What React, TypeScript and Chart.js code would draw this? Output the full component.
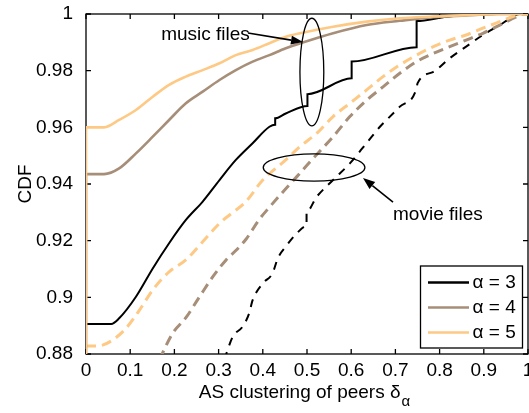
import React, { useEffect, useRef } from "react";
import { Chart, registerables } from "chart.js";

Chart.register(...registerables);

// ---------- data ----------
const xTicks = [0, 0.1, 0.2, 0.3, 0.4, 0.5, 0.6, 0.7, 0.8, 0.9, 1];
const xTickLabels = ["0", "0.1", "0.2", "0.3", "0.4", "0.5", "0.6", "0.7", "0.8", "0.9", "1"];
const yTicks = [0.88, 0.9, 0.92, 0.94, 0.96, 0.98, 1];
const yTickLabels = ["0.88", "0.9", "0.92", "0.94", "0.96", "0.98", "1"];

const legendLabels = ["α = 3", "α = 4", "α = 5"];

// music files (solid)
const musicAlpha3: [number, number][] = [
  [0, 0], [0, 0.8906], [0.057, 0.8906], [0.075, 0.8926], [0.113, 0.9002], [0.151, 0.9102],
  [0.188, 0.9191], [0.226, 0.9273], [0.264, 0.9338], [0.302, 0.9414], [0.339, 0.9485],
  [0.377, 0.9544], [0.415, 0.9602], [0.428, 0.9609], [0.428, 0.9632], [0.452, 0.9649],
  [0.501, 0.9675], [0.501, 0.9717], [0.601, 0.9773], [0.601, 0.9832], [0.748, 0.9883],
  [0.748, 0.9975], [0.816, 0.999], [0.885, 0.9998], [0.93, 1], [1, 1],
];
const musicAlpha4: [number, number][] = [
  [0, 0], [0, 0.9435], [0.041, 0.9435], [0.075, 0.9455], [0.113, 0.9508], [0.151, 0.9567],
  [0.188, 0.9626], [0.226, 0.9685], [0.264, 0.9726], [0.302, 0.9767], [0.339, 0.9802],
  [0.377, 0.9832], [0.415, 0.9855], [0.452, 0.9879], [0.49, 0.9899], [0.559, 0.9932],
  [0.635, 0.9961], [0.71, 0.9976], [0.786, 0.9989], [0.86, 0.9995], [0.93, 1], [1, 1],
];
const musicAlpha5: [number, number][] = [
  [0, 0], [0, 0.96], [0.041, 0.96], [0.075, 0.9626], [0.113, 0.9661], [0.151, 0.9708],
  [0.188, 0.975], [0.226, 0.9779], [0.264, 0.9802], [0.302, 0.9826], [0.339, 0.9855],
  [0.377, 0.9873], [0.415, 0.9897], [0.452, 0.992], [0.49, 0.9934], [0.559, 0.9955],
  [0.635, 0.9973], [0.71, 0.9985], [0.786, 0.9991], [0.86, 0.9996], [0.95, 1], [1, 1],
];

// movie files (dashed)
const movieAlpha3: [number, number][] = [
  [0.313, 0.878], [0.332, 0.8861], [0.354, 0.8896], [0.369, 0.8943], [0.377, 0.899],
  [0.4, 0.9049], [0.422, 0.9085], [0.434, 0.9138], [0.452, 0.9179], [0.477, 0.9226],
  [0.499, 0.9252], [0.499, 0.9302], [0.522, 0.9355], [0.559, 0.9414], [0.597, 0.9473],
  [0.635, 0.9545], [0.665, 0.9602], [0.68, 0.9626], [0.71, 0.9673], [0.748, 0.9738],
  [0.75, 0.9755], [0.786, 0.9796], [0.823, 0.9844], [0.86, 0.9885], [0.898, 0.9926],
  [0.936, 0.9961], [0.965, 0.999], [0.98, 1], [1, 1],
];
const movieAlpha4: [number, number][] = [
  [0.166, 0.878], [0.196, 0.8873], [0.226, 0.8928], [0.256, 0.9], [0.287, 0.9073],
  [0.317, 0.9132], [0.339, 0.9165], [0.362, 0.9205], [0.392, 0.9275], [0.415, 0.9318],
  [0.446, 0.9373], [0.477, 0.9426], [0.507, 0.9479], [0.559, 0.9567], [0.597, 0.9638],
  [0.635, 0.9696], [0.672, 0.9743], [0.71, 0.9791], [0.748, 0.9832], [0.786, 0.9861],
  [0.823, 0.9885], [0.86, 0.9908], [0.898, 0.9932], [0.936, 0.9961], [0.974, 0.999],
  [0.99, 1], [1, 1],
];
const movieAlpha5: [number, number][] = [
  [0, 0.8828], [0.03, 0.8829], [0.06, 0.8849], [0.09, 0.889], [0.121, 0.8955],
  [0.151, 0.9026], [0.188, 0.909], [0.226, 0.9132], [0.264, 0.9196], [0.302, 0.9261],
  [0.33, 0.9297], [0.36, 0.9335], [0.4, 0.9414], [0.452, 0.9485], [0.484, 0.9532],
  [0.522, 0.9579], [0.559, 0.9638], [0.597, 0.9685], [0.635, 0.9732], [0.672, 0.9779],
  [0.71, 0.982], [0.748, 0.9855], [0.786, 0.9885], [0.823, 0.9908], [0.86, 0.9926],
  [0.898, 0.995], [0.936, 0.9973], [0.974, 0.9996], [0.985, 1], [1, 1],
];

// annotations (data coordinates)
const musicLabel = { text: "music files", x: 0.17, y: 0.9926 };
const musicArrow = { from: [0.3665, 0.9933], to: [0.491, 0.9901] };
const musicEllipse = { cx: 0.511, cy: 0.9795, rx: 0.027, ry: 0.019 };
const movieLabel = { text: "movie files", x: 0.6946, y: 0.929 };
const movieArrow = { from: [0.6946, 0.9336], to: [0.6267, 0.9421] };
const movieEllipse = { cx: 0.516, cy: 0.9458, rx: 0.115, ry: 0.0048 };

// ---------- styles ----------
const FONT = '"Liberation Sans", Arial, Helvetica, sans-serif';
const BLACK = "#000000";
const BROWN = "#a68e78";
const ORANGE = "#fec984";
const colors = [BLACK, BROWN, ORANGE];

const toXY = (arr: [number, number][]) => arr.map(([x, y]) => ({ x, y }));

function drawArrow(ctx: CanvasRenderingContext2D, x1: number, y1: number, x2: number, y2: number) {
  const ang = Math.atan2(y2 - y1, x2 - x1);
  const len = 12;
  const hw = 4.5;
  const bx = x2 - len * Math.cos(ang);
  const by = y2 - len * Math.sin(ang);
  ctx.beginPath();
  ctx.moveTo(x1, y1);
  ctx.lineTo(bx, by);
  ctx.stroke();
  ctx.beginPath();
  ctx.moveTo(x2, y2);
  ctx.lineTo(bx + hw * Math.sin(ang), by - hw * Math.cos(ang));
  ctx.lineTo(bx - hw * Math.sin(ang), by + hw * Math.cos(ang));
  ctx.closePath();
  ctx.fill();
}

const decorPlugin = {
  id: "matlabDecor",
  beforeDatasetsDraw(chart: any) {
    const { ctx, chartArea: a, scales } = chart;
    const xs = scales.x;
    const ys = scales.y;
    ctx.save();
    ctx.strokeStyle = BLACK;
    ctx.lineWidth = 1.3;
    ctx.strokeRect(a.left, a.top, a.right - a.left, a.bottom - a.top);
    const tl = 5;
    ctx.beginPath();
    xTicks.forEach((v) => {
      const px = xs.getPixelForValue(v);
      ctx.moveTo(px, a.bottom);
      ctx.lineTo(px, a.bottom - tl);
      ctx.moveTo(px, a.top);
      ctx.lineTo(px, a.top + tl);
    });
    yTicks.forEach((v) => {
      const py = ys.getPixelForValue(v);
      ctx.moveTo(a.left, py);
      ctx.lineTo(a.left + tl, py);
      ctx.moveTo(a.right, py);
      ctx.lineTo(a.right - tl, py);
    });
    ctx.stroke();
    ctx.restore();
  },
  afterDatasetsDraw(chart: any) {
    const { ctx, chartArea: a, scales } = chart;
    const xs = scales.x;
    const ys = scales.y;
    const X = (v: number) => xs.getPixelForValue(v);
    const Y = (v: number) => ys.getPixelForValue(v);
    ctx.save();
    ctx.strokeStyle = BLACK;
    ctx.fillStyle = BLACK;

    // ellipses
    ctx.lineWidth = 1.3;
    [musicEllipse, movieEllipse].forEach((e) => {
      const cx = X(e.cx);
      const cy = Y(e.cy);
      const rx = Math.abs(X(e.cx + e.rx) - cx);
      const ry = Math.abs(Y(e.cy + e.ry) - cy);
      ctx.beginPath();
      ctx.ellipse(cx, cy, rx, ry, 0, 0, Math.PI * 2);
      ctx.stroke();
    });

    // arrows
    ctx.lineWidth = 1.6;
    [musicArrow, movieArrow].forEach((ar) => {
      drawArrow(ctx, X(ar.from[0]), Y(ar.from[1]), X(ar.to[0]), Y(ar.to[1]));
    });

    // labels
    ctx.font = `19px ${FONT}`;
    ctx.textAlign = "left";
    ctx.textBaseline = "middle";
    [musicLabel, movieLabel].forEach((l) => {
      ctx.fillText(l.text, X(l.x), Y(l.y));
    });

    // legend
    const bw = 102;
    const bh = 82;
    const bRight = a.right - 5.5;
    const bBottom = a.bottom - 6;
    const bl = bRight - bw;
    const bt = bBottom - bh;
    ctx.fillStyle = "#ffffff";
    ctx.fillRect(bl, bt, bw, bh);
    ctx.lineWidth = 1.3;
    ctx.strokeStyle = BLACK;
    ctx.strokeRect(bl, bt, bw, bh);
    legendLabels.forEach((lab, i) => {
      const ry = bt + 16.5 + i * 25;
      ctx.strokeStyle = colors[i];
      ctx.lineWidth = 2.5;
      ctx.beginPath();
      ctx.moveTo(bl + 7.5, ry);
      ctx.lineTo(bl + 48.5, ry);
      ctx.stroke();
      ctx.fillStyle = BLACK;
      ctx.font = `19px ${FONT}`;
      ctx.textBaseline = "middle";
      ctx.fillText(lab, bl + 52, ry + 0.5);
    });

    // x axis title with subscript
    const main = "AS clustering of peers δ";
    const sub = "α";
    ctx.fillStyle = BLACK;
    ctx.textBaseline = "alphabetic";
    ctx.font = `19px ${FONT}`;
    const wMain = ctx.measureText(main).width;
    ctx.font = `15px ${FONT}`;
    const wSub = ctx.measureText(sub).width;
    const startX = (a.left + a.right) / 2 - (wMain + wSub) / 2 - 3;
    ctx.font = `19px ${FONT}`;
    ctx.fillText(main, startX, a.bottom + 44);
    ctx.font = `15px ${FONT}`;
    ctx.fillText(sub, startX + wMain + 1, a.bottom + 52);
    ctx.restore();
  },
};

export default function App() {
  const ref = useRef<HTMLCanvasElement | null>(null);

  useEffect(() => {
    document.body.style.margin = "0";
    const canvas = ref.current;
    if (!canvas) return;
    const solid = (data: [number, number][], color: string, w: number) => ({
      data: toXY(data),
      borderColor: color,
      backgroundColor: color,
      borderWidth: w,
      pointRadius: 0,
      cubicInterpolationMode: "monotone",
      fill: false,
    });
    const dashed = (data: [number, number][], color: string, w: number, dash: number[]) => ({
      ...solid(data, color, w),
      borderDash: dash,
    });
    // dataset 0 drawn on top
    const chart = new Chart(canvas, {
      type: "line",
      data: {
        datasets: [
          solid(musicAlpha5, ORANGE, 2.6),
          solid(musicAlpha4, BROWN, 2.6),
          solid(musicAlpha3, BLACK, 2),
          dashed(movieAlpha5, ORANGE, 3, [10, 6]),
          dashed(movieAlpha4, BROWN, 3, [10, 6]),
          dashed(movieAlpha3, BLACK, 2, [8, 7]),
        ] as any,
      },
      options: {
        animation: false,
        responsive: false,
        events: [],
        layout: { padding: { top: 14, right: 1, left: 0, bottom: 0 } },
        plugins: { legend: { display: false }, tooltip: { enabled: false } },
        scales: {
          x: {
            type: "linear",
            min: 0,
            max: 1,
            grid: { display: false },
            border: { display: false },
            afterBuildTicks: (s: any) => {
              s.ticks = xTicks.map((value) => ({ value }));
            },
            afterFit: (s: any) => {
              s.height = 59;
              s.paddingLeft = 0;
              s.paddingRight = 0;
            },
            ticks: {
              autoSkip: false,
              maxRotation: 0,
              padding: -3,
              color: BLACK,
              font: { family: FONT, size: 19 },
              callback: (_v: any, i: number) => xTickLabels[i],
            },
          },
          y: {
            type: "linear",
            min: 0.88,
            max: 1,
            grid: { display: false },
            border: { display: false },
            afterBuildTicks: (s: any) => {
              s.ticks = yTicks.map((value) => ({ value }));
            },
            afterFit: (s: any) => {
              s.width = 86;
              s.paddingTop = 0;
              s.paddingBottom = 0;
            },
            title: {
              display: true,
              text: "CDF",
              color: BLACK,
              font: { family: FONT, size: 19 },
              padding: { top: 14, bottom: 0 },
            },
            ticks: {
              autoSkip: false,
              padding: 5,
              color: BLACK,
              font: { family: FONT, size: 19 },
              callback: (_v: any, i: number) => yTickLabels[i],
            },
          },
        },
      } as any,
      plugins: [decorPlugin],
    });
    return () => chart.destroy();
  }, []);

  return (
    <canvas
      ref={ref}
      width={529}
      height={413}
      style={{ display: "block", width: 529, height: 413 }}
    />
  );
}
